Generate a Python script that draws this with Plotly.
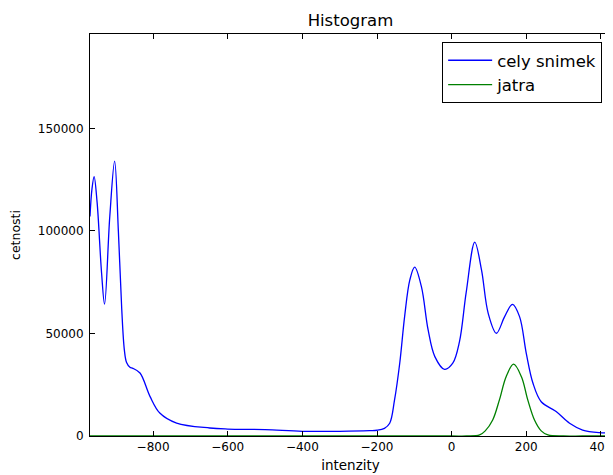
import plotly.graph_objects as go

# blue curve: whole image histogram
cely_x = [-969, -964, -958, -950, -938, -930, -916, -903, -893, -884, -877, -871, -862, -854,
          -835, -808, -782, -737, -648, -600, -500, -400, -300, -220, -200, -180, -166, -153,
          -139, -126, -112, -99, -81, -63, -45, -19, 3, 21, 39, 62, 80, 98, 120, 142, 163, 182,
          200, 218, 240, 280, 316, 351, 396, 426]
cely_y = [107000, 120000, 126500, 114000, 79500, 64300, 107000, 134000, 100000, 62000, 42000,
          35800, 33500, 33000, 30700, 19200, 11200, 6300, 3900, 3400, 3100, 2300, 2300, 2600,
          2800, 3750, 6200, 17560, 35600, 58200, 76100, 82300, 72800, 51700, 38700, 32500,
          35500, 46000, 70000, 94500, 81000, 59800, 50100, 58200, 64200, 58200, 40300, 25700,
          16700, 11900, 6200, 2900, 1600, 1500]

# green curve: liver
jatra_x = [-969, -500, 0, 40, 75, 90, 110, 128, 146, 166, 187, 204, 222, 240, 258, 300, 350, 426]
jatra_y = [0, 0, 0, 0, 500, 2500, 7800, 17600, 28900, 35000, 28900, 17600, 7800, 2500, 500, 0, 0, 0]

x_ticks = [-800, -600, -400, -200, 0, 200, 400]
y_ticks = [0, 50000, 100000, 150000]

fig = go.Figure()
fig.add_trace(go.Scatter(x=cely_x, y=cely_y, mode="lines", name="cely snimek",
                         line=dict(color="#0000ff", width=1.3, shape="spline", smoothing=1.0)))
fig.add_trace(go.Scatter(x=jatra_x, y=jatra_y, mode="lines", name="jatra",
                         line=dict(color="#008000", width=1.3, shape="spline", smoothing=1.0)))

axis_common = dict(showgrid=False, zeroline=False, showline=True, linecolor="black",
                   linewidth=1, mirror="allticks", ticks="inside", ticklen=5,
                   tickcolor="black", automargin=False,
                   tickfont=dict(family="DejaVu Sans", size=12, color="black"))

# page body has an 8px default margin, so the figure is sized to fit the window
fig.update_layout(
    width=605, height=467,
    margin=dict(l=82, r=2, t=26, b=39),
    paper_bgcolor="white", plot_bgcolor="white",
    title=dict(text="Histogram", x=0.566, xanchor="center", y=1 - 12 / 467, yanchor="middle",
               font=dict(family="DejaVu Sans", size=16.5, color="black")),
    xaxis=dict(range=[-969, 427], tickvals=x_ticks,
               title=dict(text="intenzity", standoff=7,
                          font=dict(family="DejaVu Sans", size=13.5, color="black")),
               **axis_common),
    yaxis=dict(range=[0, 196000], tickvals=y_ticks, tickformat="d", ticklabelstandoff=3,
               title=dict(text="cetnosti", standoff=19,
                          font=dict(family="DejaVu Sans", size=12.5, color="black")),
               **axis_common),
    legend=dict(x=0.983, y=0.98, xanchor="right", yanchor="top",
                bordercolor="black", borderwidth=1, bgcolor="white",
                font=dict(family="DejaVu Sans", size=16.5, color="black"),
                itemwidth=44, tracegroupgap=2),
    showlegend=True,
)

fig.write_html("out.html")
